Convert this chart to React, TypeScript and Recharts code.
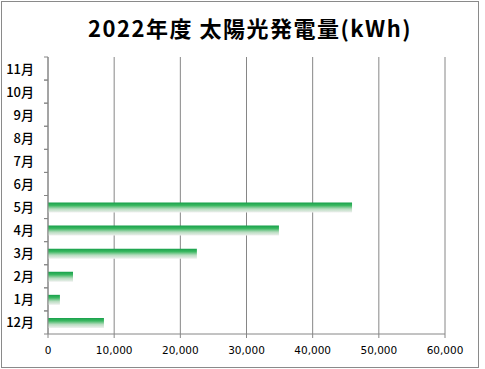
import { BarChart, Bar, XAxis, YAxis, CartesianGrid } from 'recharts';

const months = ['12月', '1月', '2月', '3月', '4月', '5月', '6月', '7月', '8月', '9月', '10月', '11月'];
const generation = [8450, 1800, 3780, 22500, 34900, 45950, null, null, null, null, null, null];
const xTicks = [0, 10000, 20000, 30000, 40000, 50000, 60000];

const data = months.map((m, i) => ({ month: m, kwh: generation[i] }));

const W = 485;
const H = 369;
const PLOT_TOP = 57;
const PLOT_BOTTOM = 334;
const BAND = (PLOT_BOTTOM - PLOT_TOP) / months.length;
const AXIS_GRAY = '#868686';

function MonthTick(props: any) {
  const { x, y, payload } = props;
  return (
    <g>
      <text
        x={x - 14}
        y={y}
        dy={5}
        textAnchor="end"
        fontSize={13}
        fontWeight={500}
        fontFamily="'Noto Sans CJK JP', sans-serif"
        fill="#000"
      >
        {payload.value}
      </text>
      <line x1={x - 4} x2={x} y1={y - BAND / 2} y2={y - BAND / 2} stroke={AXIS_GRAY} />
      <line x1={x - 4} x2={x} y1={y + BAND / 2} y2={y + BAND / 2} stroke={AXIS_GRAY} />
    </g>
  );
}

export default function App() {
  return (
    <div style={{ position: 'absolute', left: 0, top: 0, width: W, height: H, background: '#fff' }}>
      <div
        style={{
          position: 'absolute',
          left: 1,
          top: 1,
          width: 478,
          height: 367,
          boxSizing: 'border-box',
          border: '1px solid #8a8a8a',
        }}
      />
      <div
        style={{
          position: 'absolute',
          left: 250,
          top: 12,
          transform: 'translateX(-50%)',
          whiteSpace: 'nowrap',
          fontFamily: "'Noto Sans CJK JP', sans-serif",
          fontWeight: 700,
          fontSize: 22,
          letterSpacing: 1.5,
          lineHeight: '30px',
          color: '#000',
        }}
      >
        2022年度 太陽光発電量(kWh)
      </div>
      <div style={{ position: 'absolute', left: 0, top: 0 }}>
        <BarChart
          width={W}
          height={H}
          data={data}
          layout="vertical"
          margin={{ top: PLOT_TOP, right: 40, bottom: 15, left: 0 }}
          barCategoryGap={0}
        >
          <defs>
            <linearGradient id="greenBar" x1="0" y1="0" x2="0" y2="1">
              <stop offset="0%" stopColor="#16a04a" />
              <stop offset="30%" stopColor="#3cb862" />
              <stop offset="65%" stopColor="#b8dcc0" />
              <stop offset="100%" stopColor="#eef0ee" />
            </linearGradient>
          </defs>
          <CartesianGrid horizontal={false} stroke={AXIS_GRAY} />
          <XAxis
            type="number"
            domain={[0, 60000]}
            ticks={xTicks}
            height={20}
            stroke={AXIS_GRAY}
            tickSize={4}
            tickMargin={9}
            tick={{ fill: '#000', fontSize: 10.5, fontFamily: "'DejaVu Sans', sans-serif" }}
            tickFormatter={(v: number) => v.toLocaleString('en-US')}
          />
          <YAxis
            type="category"
            dataKey="month"
            reversed
            width={48}
            stroke={AXIS_GRAY}
            tickLine={false}
            tickSize={0}
            tickMargin={0}
            tick={<MonthTick />}
            interval={0}
          />
          <Bar dataKey="kwh" barSize={10} fill="url(#greenBar)" isAnimationActive={false} />
        </BarChart>
      </div>
    </div>
  );
}
